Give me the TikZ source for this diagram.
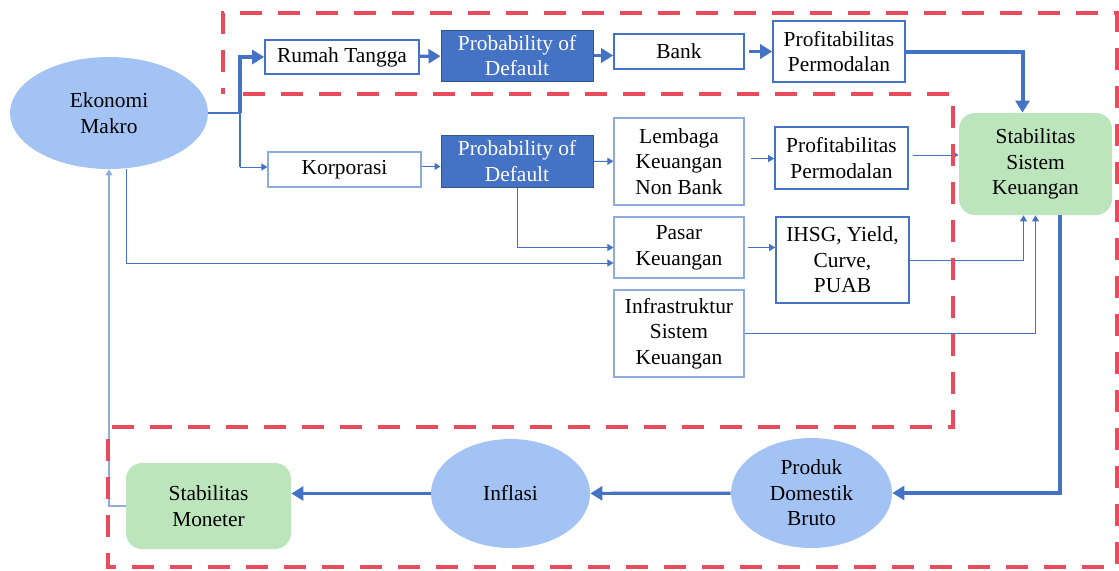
\documentclass[tikz,border=0pt]{standalone}
\usepackage{fontspec}
\setmainfont{Liberation Serif}
\newfontfamily\diagfont{Liberation Serif}
\usetikzlibrary{positioning, arrows.meta, shapes.geometric}
\definecolor{boxblue}{RGB}{68,114,196}
\definecolor{paleblue}{RGB}{143,170,220}
\definecolor{ellblue}{RGB}{164,195,245}
\definecolor{softgreen}{RGB}{188,229,188}
\definecolor{dashred}{RGB}{232,76,92}

\begin{document}
\begin{tikzpicture}[
    x=0.5pt, y=-0.5pt,
    every node/.style={font=\diagfont\fontsize{10.7}{12.8}\selectfont, align=center, inner sep=0pt},
    box/.style={draw=boxblue, line width=0.8pt, rectangle},
    softbox/.style={draw=paleblue, line width=0.6pt, rectangle},
    pod/.style={draw=boxblue!75!black, fill=boxblue, text=white, line width=0.5pt, rectangle},
    oval/.style={ellipse, fill=ellblue},
    goal/.style={rectangle, rounded corners=8pt, fill=softgreen},
    bigarrow/.style={-{Triangle[length=6pt, width=7pt]}, line width=1.6pt, draw=boxblue},
    trunk/.style={line width=1.3pt, draw=boxblue},
    thinarrow/.style={-{Triangle[length=3pt, width=3.5pt]}, line width=0.5pt, draw=boxblue},
    backarrow/.style={-{Triangle[length=3pt, width=3.5pt]}, line width=0.6pt, draw=paleblue},
    zone/.style={draw=dashred, line width=2pt, dash pattern=on 11pt off 8pt}
]
\useasboundingbox (0,0) rectangle (1119,570);

\node[oval, minimum width=99pt, minimum height=56pt] (ekonomi) at (109,113) {Ekonomi\\Makro};
\node[box, minimum width=77pt, minimum height=17pt] (rumah) at (342,57) {Rumah Tangga};
\node[pod, minimum width=76pt, minimum height=25.5pt] (pod1) at (517,55.5) {Probability of\\Default};
\node[box, minimum width=65pt, minimum height=17.5pt] (bank) at (679,51.5) {Bank};
\node[box, minimum width=66pt, minimum height=30.5pt] (prof1) at (839,51.5) {Profitabilitas\\Permodalan};
\node[goal, minimum width=76.5pt, minimum height=51pt] (ssk) at (1035.5,164) {Stabilitas\\Sistem\\Keuangan};

\node[softbox, minimum width=76.5pt, minimum height=17.5pt] (korporasi) at (344.5,169.5) {Korporasi};
\node[pod, minimum width=76pt, minimum height=26pt] (pod2) at (517,161) {Probability of\\Default};
\node[softbox, minimum width=65pt, minimum height=43.5pt] (lknb) at (679,161.5) {Lembaga\\Keuangan\\Non Bank};
\node[box, minimum width=66.5pt, minimum height=31pt] (prof2) at (841.5,158) {Profitabilitas\\Permodalan};
\node[softbox, minimum width=65pt, minimum height=30.5pt] (pasar) at (679,247.5) {Pasar\\Keuangan};
\node[box, minimum width=66.5pt, minimum height=43pt] (ihsg) at (842.5,260) {IHSG, Yield,\\Curve,\\PUAB};
\node[softbox, minimum width=65pt, minimum height=43.5pt] (infra) at (679,333.5) {Infrastruktur\\Sistem\\Keuangan};

\node[oval, minimum width=80.5pt, minimum height=55pt] (pdb) at (811.5,493) {Produk\\Domestik\\Bruto};
\node[oval, minimum width=79.5pt, minimum height=54.5pt] (inflasi) at (510.5,493.5) {Inflasi};
\node[goal, minimum width=82.5pt, minimum height=43pt] (moneter) at (208.5,506) {Stabilitas\\Moneter};

\coordinate (split) at (240,113);
\coordinate (splitlow) at (240,167);

\draw[trunk] (ekonomi.east) -- (split);
\draw[bigarrow] (split) |- (rumah.west);
\draw[trunk] (split) -- (splitlow);
\draw[thinarrow] (splitlow) -- (splitlow -| korporasi.west);
\draw[bigarrow] (rumah) -- (pod1);
\draw[bigarrow] (pod1.east) -- (pod1.east -| bank.west);
\draw[bigarrow, shorten <=2pt] (bank) -- (prof1);
\draw[bigarrow, line width=2pt] (prof1.east) -| ([xshift=-6.5pt]ssk.north);

\draw[thinarrow] ([yshift=1.5pt]korporasi.east) -- ([yshift=1.5pt]korporasi.east -| pod2.west);
\draw[thinarrow] (pod2) -- (lknb);
\draw[thinarrow, shorten <=3pt] ([yshift=1.5pt]lknb.east) -- ([yshift=1.5pt]lknb.east -| prof2.west);
\draw[thinarrow, shorten <=2pt] ([yshift=1.5pt]prof2.east) -- ([yshift=1.5pt]prof2.east -| ssk.west);
\draw[thinarrow] (pod2.south) |- (pasar.west);
\draw[thinarrow] ([xshift=8.5pt]ekonomi.south) |- ([yshift=-7.75pt]pasar.west);
\draw[thinarrow, shorten <=1.5pt] (pasar.east) -- (pasar.east -| ihsg.west);
\draw[thinarrow] (ihsg.east) -| ([xshift=-6pt]ssk.south);
\draw[thinarrow] (infra.east) -| (ssk.south);

\draw[bigarrow] ([xshift=12.25pt]ssk.south) |- (pdb.east);
\draw[bigarrow] (pdb) -- (inflasi);
\draw[bigarrow] (inflasi.west) -- (inflasi.west -| moneter.east);
\draw[backarrow] (moneter.west) -| (ekonomi.south);

\draw[zone] (243,94) -- (953,94) -- (953,427) -- (108,427) -- (108,567) -- (1117,567) -- (1117,13) -- (223,13) -- (223,94);
\end{tikzpicture}
\end{document}
